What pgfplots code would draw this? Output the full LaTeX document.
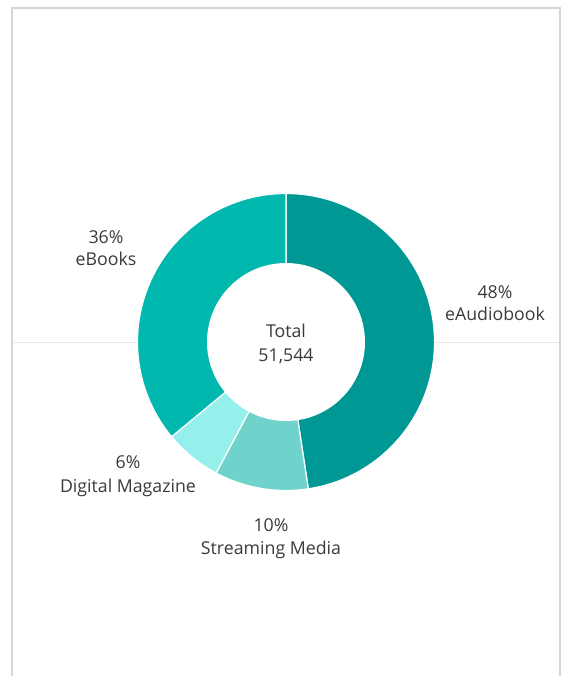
\documentclass[border=0pt]{standalone}
\usepackage{fontspec}
\setmainfont{Open Sans}
\usepackage{pgfplots}
\usepackage{pgfplotstable}
\pgfplotsset{compat=1.18}

\definecolor{cAudio}{HTML}{009894}
\definecolor{cStream}{HTML}{6FD3CC}
\definecolor{cMag}{HTML}{95EFEA}
\definecolor{cBooks}{HTML}{00B8AD}
\definecolor{txt}{HTML}{3A3A3A}
\definecolor{frame}{HTML}{D6D6D6}
\definecolor{midline}{HTML}{E8E8E8}

\tikzset{lbl/.style={anchor=base, text=txt, font=\fontsize{17.8}{20}\selectfont}}

% share of each format in percent, clockwise from 12 o'clock
\pgfplotstableread{
share
47.6
10.2
6.2
36.0
}\shares

\begin{document}
\begin{tikzpicture}
\useasboundingbox (0,0) rectangle (566bp,676bp);
\pgfplotstablegetelem{0}{share}\of\shares \edef\vA{\pgfplotsretval}
\pgfplotstablegetelem{1}{share}\of\shares \edef\vB{\pgfplotsretval}
\pgfplotstablegetelem{2}{share}\of\shares \edef\vC{\pgfplotsretval}
\pgfplotstablegetelem{3}{share}\of\shares \edef\vD{\pgfplotsretval}
\pgfmathsetmacro\total{\vA+\vB+\vC+\vD}
\pgfmathsetmacro\aA{90}
\pgfmathsetmacro\aB{\aA-360*(\vA/\total)}
\pgfmathsetmacro\aC{\aB-360*(\vB/\total)}
\pgfmathsetmacro\aD{\aC-360*(\vC/\total)}
\pgfmathsetmacro\aE{\aD-360*(\vD/\total)}
\begin{axis}[
    at={(0,0)}, anchor=south west,
    x=1bp, y=1bp,
    xmin=0, xmax=566, ymin=0, ymax=676,
    y dir=reverse,
    hide axis, clip=false,
]
  % panel frame and divider
  \draw[midline, line width=1bp] (axis cs:12,342) -- (axis cs:560,342);
  \draw[frame, line width=1.2bp] (axis cs:12,676) -- (axis cs:12,8) -- (axis cs:560,8) -- (axis cs:560,676);

  % donut
  \fill[cAudio, draw=white, line width=1.2bp] (axis cs:286,342) -- ++(\aA:148.5bp)
     arc[start angle=\aA, end angle=\aB, radius=148.5bp] -- cycle;
  \fill[cStream, draw=white, line width=1.2bp] (axis cs:286,342) -- ++(\aB:148.5bp)
     arc[start angle=\aB, end angle=\aC, radius=148.5bp] -- cycle;
  \fill[cMag, draw=white, line width=1.2bp] (axis cs:286,342) -- ++(\aC:148.5bp)
     arc[start angle=\aC, end angle=\aD, radius=148.5bp] -- cycle;
  \fill[cBooks, draw=white, line width=1.2bp] (axis cs:286,342) -- ++(\aD:148.5bp)
     arc[start angle=\aD, end angle=\aE, radius=148.5bp] -- cycle;
  \fill[white] (axis cs:286,342) circle[radius=79bp];

  % labels
  \node[lbl] at (axis cs:286,337) {Total};
  \node[lbl] at (axis cs:286,361) {51,544};
  \node[lbl] at (axis cs:495,298) {48\%};
  \node[lbl] at (axis cs:495,320) {eAudiobook};
  \node[lbl] at (axis cs:106,243) {36\%};
  \node[lbl] at (axis cs:106,265) {eBooks};
  \node[lbl] at (axis cs:128,468) {6\%};
  \node[lbl] at (axis cs:128,492) {Digital Magazine};
  \node[lbl] at (axis cs:271,531) {10\%};
  \node[lbl] at (axis cs:271,554) {Streaming Media};
\end{axis}
\end{tikzpicture}
\end{document}
